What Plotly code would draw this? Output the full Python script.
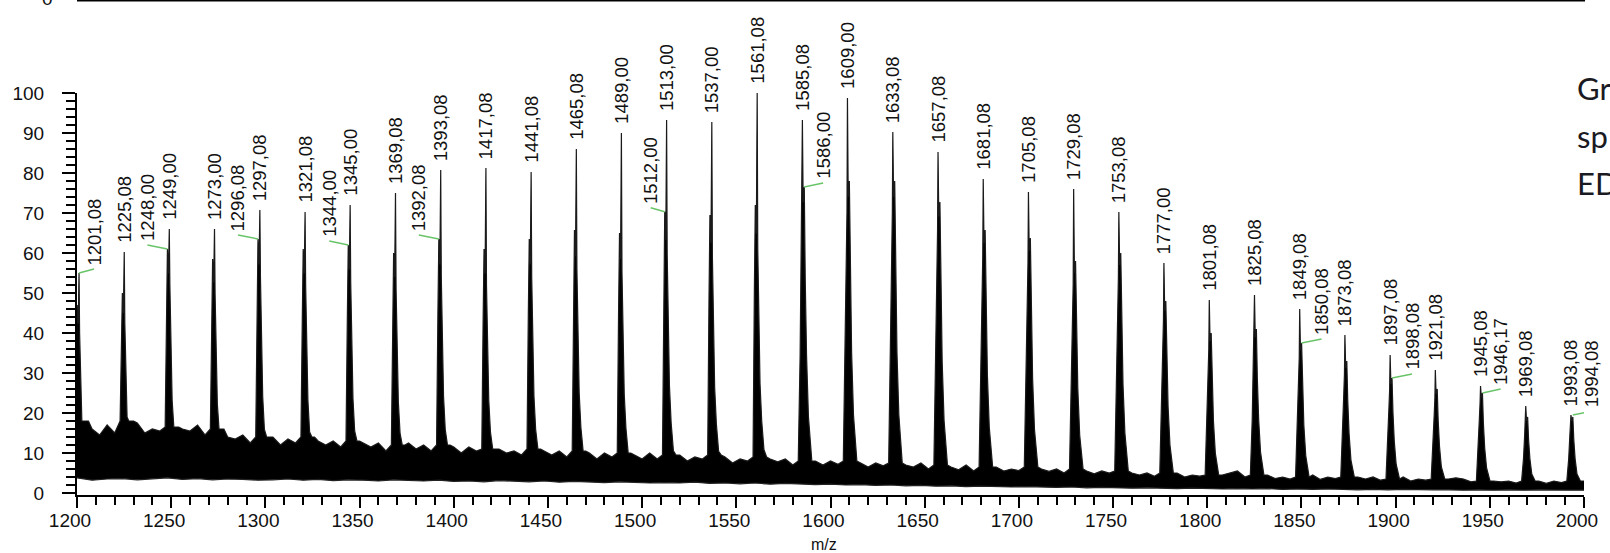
import numpy as np
import plotly.graph_objects as go

# ---- spectrum data -------------------------------------------------------
# labelled main peaks: m/z and relative intensity (%)
peak_mz = [1201.08, 1225.08, 1249.00, 1273.00, 1297.08, 1321.08, 1345.00, 1369.08,
           1393.08, 1417.08, 1441.08, 1465.08, 1489.00, 1513.00, 1537.00, 1561.08,
           1585.08, 1609.00, 1633.08, 1657.08, 1681.08, 1705.08, 1729.08, 1753.08,
           1777.00, 1801.08, 1825.08, 1849.08, 1873.08, 1897.08, 1921.08, 1945.08,
           1969.08, 1993.08]
peak_int = [55, 60.25, 66, 66, 70.75, 70.25, 72, 75,
            80.75, 81.25, 80.25, 86, 90, 93.25, 92.75, 100,
            93.25, 98.75, 90.25, 85.25, 78.5, 75.25, 76, 70.25,
            57.5, 48.25, 49.5, 46, 39.5, 34.5, 30.75, 26.75,
            21.75, 19.5]
# intensity of the neighbouring (1 Da) shoulder of each peak and its side
shoulder_int = [47, 50, 61, 58.5, 63.5, 61, 62, 60,
                63.5, 61, 63.5, 65.75, 65, 70.3, 69.5, 72,
                76.5, 78, 78, 72.75, 65.75, 63.75, 58, 60,
                48, 40, 41, 37.5, 33, 28.75, 26, 25,
                19, 19]
shoulder_side = [-1] * 16 + [1] * 18

# secondary labelled shoulders
minor_mz = [1248.00, 1296.08, 1344.00, 1392.08, 1512.00, 1586.00,
            1850.08, 1898.08, 1946.17, 1994.08]
minor_int = [61, 63.5, 62, 63.5, 70.3, 76.5, 37.5, 28.75, 25, 19.5]

# noise band between the peaks: upper edge every 4 m/z, lower edge every 8 m/z
noise_hi_mz = np.arange(1200, 2001, 4)
noise_hi = [18, 15.5, 16, 14.5, 17, 15, 18, 16, 17.5, 15, 16, 15.5, 16.5, 14,
            16, 15.5, 17, 14.5, 16, 13, 14, 13.5, 14.5, 12.5, 14, 12.8,
            14, 12, 13.5, 12.5, 14, 11.5, 13, 12, 13, 11.5, 13, 11, 12.5, 11.5,
            12.5, 10.5, 12, 11, 12.5, 11, 12, 10.5, 12, 10.8,
            11.5, 10, 11.5, 10.5, 11, 9.5, 11, 10, 10.5, 9.5, 11, 9, 10.5, 9.5,
            10.5, 9, 10.5, 9.5, 10, 8.5, 10, 9, 10, 8.8, 9.5, 8.5,
            10, 8.5, 9.5, 8.8, 9.5, 8, 9, 8.5, 9.5, 8, 9, 7.5, 8.5, 8,
            9, 7.5, 8.5, 7.8, 8.5, 7, 8, 7.5, 8, 7,
            8, 7.2, 8, 6.8, 7.5, 6.5, 7.5, 6.8, 7.5, 6.2, 7, 6.5, 7.5, 6,
            7, 6.2, 6.5, 5.8, 7, 5.5, 6.5, 5.8, 6.5, 5.5, 6, 5.6,
            6.5, 5.2, 6, 5.4, 6, 5, 6, 5.2, 5.5, 4.8, 5.5, 5, 5.5, 4.6,
            5, 4.5, 5, 4.2, 5, 4.4, 5, 4, 4.5, 4.2,
            4.5, 3.8, 4.5, 5, 5.5, 4, 4.5, 3.8, 4.5, 3.6, 4, 3.5, 4, 3.8,
            4.5, 3.4, 4, 3.6, 4, 3.2, 4, 3.5, 4, 3.2,
            3.5, 3.3, 4, 3, 3.5, 3.2, 3.5, 3, 3.5, 3.8, 3.5, 2.8, 3, 2.6,
            3, 2.8, 3, 2.5, 3, 2.7, 3, 2.4, 3, 2.6, 3, 2.5,
            3]
noise_lo_mz = np.arange(1200, 2001, 8)
noise_lo = [3.8, 3.2, 3.5, 3.6, 3.3, 3.5, 3.8, 3.4, 3.6, 3.3, 3.5, 3.4, 3.2,
            3.3, 3.5, 3.2, 3.4, 3.1, 3.3, 3.2, 3.0, 3.3, 3.1, 3.0, 3.2, 2.9,
            3.0, 2.8, 3.1, 2.9, 2.8, 3.0, 2.7, 2.9, 2.8, 2.6, 2.8, 2.7, 2.5,
            2.6, 2.5, 2.7, 2.4, 2.5, 2.3, 2.5, 2.2, 2.4, 2.3, 2.1, 2.2, 2.0,
            2.1, 1.9, 2.0, 1.8, 1.9, 1.7, 1.8, 1.6, 1.7, 1.6, 1.5, 1.6, 1.5,
            1.4, 1.5, 1.3, 1.4, 1.3, 1.2, 1.3, 1.2, 1.1, 1.2, 1.1, 1.0, 1.1,
            1.0, 1.1, 0.9, 1.0, 0.9, 1.0, 0.9, 0.8, 0.9, 0.8, 0.9, 0.8, 0.8,
            0.8, 0.7, 0.8, 0.7, 0.8, 0.7, 0.8, 0.7, 0.7, 0.7]

x_ticks = list(range(1200, 2001, 50))
y_ticks = list(range(0, 101, 10))

# ---- drawing style -----------------------------------------------------------
FONT = "Liberation Sans, Arial, sans-serif"
INK = "#111111"
GREEN = "#69c469"
LABEL_SIZE = 18.5

# peak outline profile: offsets (m/z) and fraction of the shoulder height
PROFILE = {
    -1: ([-2.2, -1.5, -1.0, -0.45, 0.0, 0.3, 0.8, 1.5, 2.4, 3.6, 5.0],
         [None, 0.7, 1.0, 0.9, "top", 0.85, 0.6, 0.38, 0.25, 0.15, None]),
    1: ([-2.2, -1.2, -0.6, -0.25, 0.0, 0.4, 1.0, 1.5, 2.2, 3.2, 5.0],
        [None, 0.45, 0.75, 0.9, "top", 0.95, 1.0, 0.7, 0.45, 0.25, None]),
}
WIN_L, WIN_R = 2.2, 5.0

# label offsets (pixels) for labels that are pushed aside with a leader line
main_label_dx = {1201.08: 15}
minor_label_dx = [-20, -20, -19, -20, -14, 19, 20, 20, 18, 19]

hi_grid = np.asarray(noise_hi_mz, dtype=float)


def nearest_hi(x):
    return noise_hi[int(np.argmin(np.abs(hi_grid - x)))]


def mz_text(v):
    return f"{v:.2f}".replace(".", ",")


# upper outline of the trace: noise between peaks plus the peak profiles
pts = []
for x, v in zip(noise_hi_mz, noise_hi):
    if any(p - WIN_L < x < p + WIN_R for p in peak_mz):
        continue
    pts.append((float(x), v))
for p, h, s, d in zip(peak_mz, peak_int, shoulder_int, shoulder_side):
    base = nearest_hi(p)
    offs, fr = PROFILE[d]
    for o, f in zip(offs, fr):
        if f is None:
            val = base
        elif f == "top":
            val = h
        else:
            val = max(base, f * s)
        pts.append((p + o, val))
pts.sort()
up_x = [a for a, _ in pts]
up_y = [b for _, b in pts]

fig = go.Figure()
fig.add_trace(go.Scatter(x=noise_lo_mz, y=noise_lo, mode="lines",
                         line=dict(color="#222222", width=1.2), hoverinfo="skip"))
fig.add_trace(go.Scatter(x=up_x, y=up_y, mode="lines", fill="tonexty",
                         fillcolor="black", line=dict(color="#1a1a1a", width=1.2),
                         hoverinfo="skip"))

annotations = []
shapes = []
for p, h in zip(peak_mz, peak_int):
    dx = main_label_dx.get(p, 0)
    annotations.append(dict(x=p, y=h, xref="x", yref="y", text=mz_text(p),
                            textangle=-90, showarrow=False, xanchor="center",
                            yanchor="bottom", xshift=dx, yshift=(5 if dx else 7),
                            font=dict(family=FONT, size=LABEL_SIZE, color=INK)))
    if dx:
        shapes.append(dict(type="line", xref="x", yref="y", xsizemode="pixel",
                           ysizemode="pixel", xanchor=p, yanchor=h,
                           x0=0, x1=dx, y0=0, y1=4,
                           line=dict(color=GREEN, width=1.5)))
for m, h, dx in zip(minor_mz, minor_int, minor_label_dx):
    annotations.append(dict(x=m, y=h, xref="x", yref="y", text=mz_text(m),
                            textangle=-90, showarrow=False, xanchor="center",
                            yanchor="bottom", xshift=dx, yshift=6,
                            font=dict(family=FONT, size=LABEL_SIZE, color=INK)))
    shapes.append(dict(type="line", xref="x", yref="y", xsizemode="pixel",
                       ysizemode="pixel", xanchor=m, yanchor=h,
                       x0=0, x1=dx, y0=0, y1=4,
                       line=dict(color=GREEN, width=1.5)))

# axis title
annotations.append(dict(x=0.4955, y=-0.124, xref="paper", yref="paper", text="m/z",
                        showarrow=False, xanchor="center", yanchor="middle",
                        font=dict(family=FONT, size=16, color=INK)))
# axis of the panel above (only its bottom edge is in view)
shapes.append(dict(type="line", xref="paper", yref="paper", x0=0, x1=1.0007,
                   y0=1.2301, y1=1.2301, line=dict(color="black", width=2)))
annotations.append(dict(x=-0.0197, y=1.234, xref="paper", yref="paper", text="0",
                        showarrow=False, xanchor="center", yanchor="middle",
                        font=dict(family=FONT, size=19, color=INK)))
# side note
for txt, yy in [("Gr", 1.0125), ("sp", 0.893), ("ED", 0.776)]:
    annotations.append(dict(x=0.9941, y=yy, xref="paper", yref="paper", text=txt,
                            showarrow=False, xanchor="left", yanchor="middle",
                            font=dict(family="Lato, Open Sans, sans-serif", size=31,
                                      color="#1a1a22")))

fig.update_layout(
    width=1610, height=553,
    margin=dict(l=73, r=16, t=93, b=58, pad=0),
    paper_bgcolor="white", plot_bgcolor="white",
    showlegend=False,
    annotations=annotations,
    shapes=shapes,
    xaxis=dict(range=[1200, 2000], tickvals=x_ticks, ticks="outside", ticklen=11,
               tickwidth=2, tickcolor="black", showline=True, linewidth=2,
               linecolor="black", showgrid=False, zeroline=False,
               tickfont=dict(family=FONT, size=19, color=INK),
               ticklabelshift=-7, ticklabelstandoff=-4,
               minor=dict(dtick=10, ticks="outside", ticklen=8, tickwidth=2,
                          tickcolor="black", showgrid=False)),
    yaxis=dict(range=[-0.5, 100], tickvals=y_ticks, ticks="outside", ticklen=13,
               tickwidth=2, tickcolor="black", showline=True, linewidth=2,
               linecolor="black", showgrid=False, zeroline=False,
               tickfont=dict(family=FONT, size=19, color=INK),
               ticklabelstandoff=14,
               minor=dict(dtick=2, ticks="outside", ticklen=9, tickwidth=2,
                          tickcolor="black", showgrid=False)),
)

fig.write_html("out.html")
